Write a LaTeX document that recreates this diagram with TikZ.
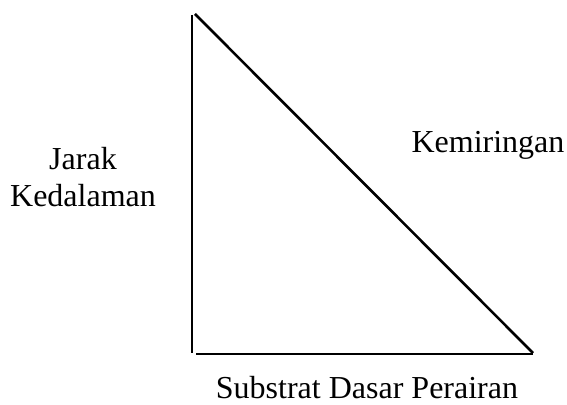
\documentclass[tikz,border=0pt]{standalone}
\usepackage{fontspec}
\setmainfont{Liberation Serif}
\usetikzlibrary{positioning}
\tikzset{side/.style={draw=black,line width=1.3pt},lbl/.style={font=\fontsize{16}{18.5}\selectfont,align=center,inner sep=0pt,anchor=base}}

\begin{document}
\begin{tikzpicture}[x=0.5pt,y=-0.5pt]
\useasboundingbox (0,0) rectangle (567,405);
\coordinate (tl) at (192,15);\coordinate (bl) at (192,353);
\coordinate (ht) at (195,14);\coordinate (hb) at (533,353);
\coordinate (bs) at (196,354);\coordinate (be) at (533,354);
\draw[side] (tl)--(bl);\draw[side] (ht)--(hb);\draw[side] (bs)--(be);
\node[lbl] (depth) at (83,207) {Jarak\\Kedalaman};
\node[lbl] (slope) at (488,153) {Kemiringan};
\node[lbl] (floor) at (367,398) {Substrat Dasar Perairan};
\end{tikzpicture}
\end{document}
